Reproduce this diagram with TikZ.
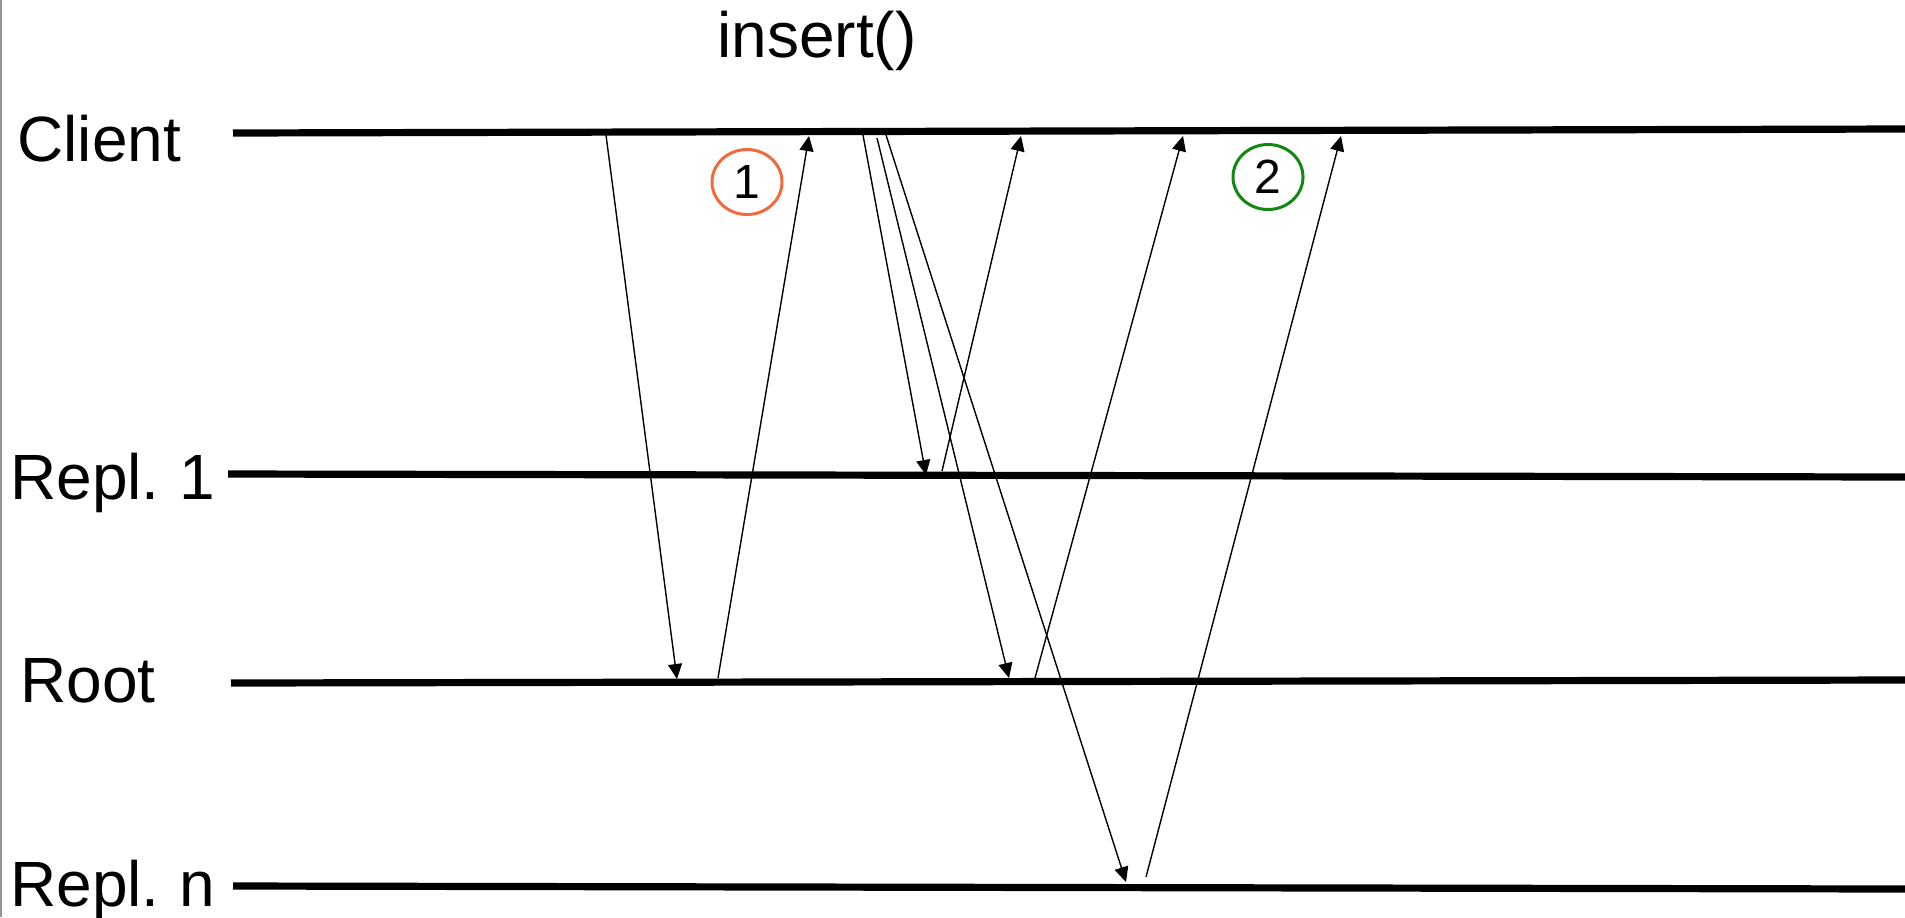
\documentclass[tikz,border=0pt]{standalone}
\usepackage{fontspec}
\setmainfont{Liberation Sans}
\usetikzlibrary{arrows.meta,shapes.geometric}
\definecolor{orangec}{RGB}{242,106,60}
\definecolor{greenc}{RGB}{18,135,18}
\definecolor{edgegray}{RGB}{150,150,150}
\tikzset{
  lifeline/.style={line width=3.6pt},
  msg/.style={line width=0.7pt,-{Triangle[length=7.5pt,width=7pt]}},
  lbl/.style={anchor=base west,inner sep=0pt,font=\fontsize{32}{38}\selectfont},
  numcirc/.style={ellipse,draw,line width=1.5pt,minimum width=35pt,minimum height=32.5pt,inner sep=0pt,font=\fontsize{24}{28}\selectfont}
}
\begin{document}
\begin{tikzpicture}[x=0.5pt,y=-0.5pt]
\useasboundingbox (0,0) rectangle (1905,917);
\draw[edgegray,line width=0.75pt] (0.75,0) -- (0.75,917);
% labels
\node[lbl] (lclient) at (17,161) {Client};
\node[lbl] (lrepl1) at (10,499) {Repl.\hspace{-2pt} 1};
\node[lbl] (lroot) at (20,702) {Root};
\node[lbl] (lrepln) at (10,906) {Repl.\hspace{-2pt} n};
\node[lbl] (linsert) at (717,57) {insert()};
% lifelines
\coordinate (cl) at (233,133); \coordinate (cr) at (1905,129);
\coordinate (r1l) at (228,474); \coordinate (r1r) at (1905,477);
\coordinate (rtl) at (231,683); \coordinate (rtr) at (1905,680);
\coordinate (rnl) at (233,886); \coordinate (rnr) at (1905,889);
\draw[lifeline] (cl) -- (cr);
\draw[lifeline] (r1l) -- (r1r);
\draw[lifeline] (rtl) -- (rtr);
\draw[lifeline] (rnl) -- (rnr);
% message endpoints
\coordinate (a1s) at (606,135); \coordinate (a1e) at (677,679);
\coordinate (a2s) at (718,678); \coordinate (a2e) at (809,136);
\coordinate (a3s) at (863,135); \coordinate (a3e) at (926,475);
\coordinate (a4s) at (877,138); \coordinate (a4e) at (1009,678);
\coordinate (a5s) at (886,135); \coordinate (a5e) at (1126,882);
\coordinate (a6s) at (942,471); \coordinate (a6e) at (1021,136);
\coordinate (a7s) at (1035,678); \coordinate (a7e) at (1183,136);
\coordinate (a8s) at (1146,877); \coordinate (a8e) at (1341,136);
\draw[msg] (a1s) -- (a1e);
\draw[msg] (a2s) -- (a2e);
\draw[msg] (a3s) -- (a3e);
\draw[msg] (a4s) -- (a4e);
\draw[msg] (a5s) -- (a5e);
\draw[msg] (a6s) -- (a6e);
\draw[msg] (a7s) -- (a7e);
\draw[msg] (a8s) -- (a8e);
% circled numbers
\node[numcirc,draw=orangec] (n1) at (747,182) {1};
\node[numcirc,draw=greenc] (n2) at (1268,177) {2};
\end{tikzpicture}
\end{document}
